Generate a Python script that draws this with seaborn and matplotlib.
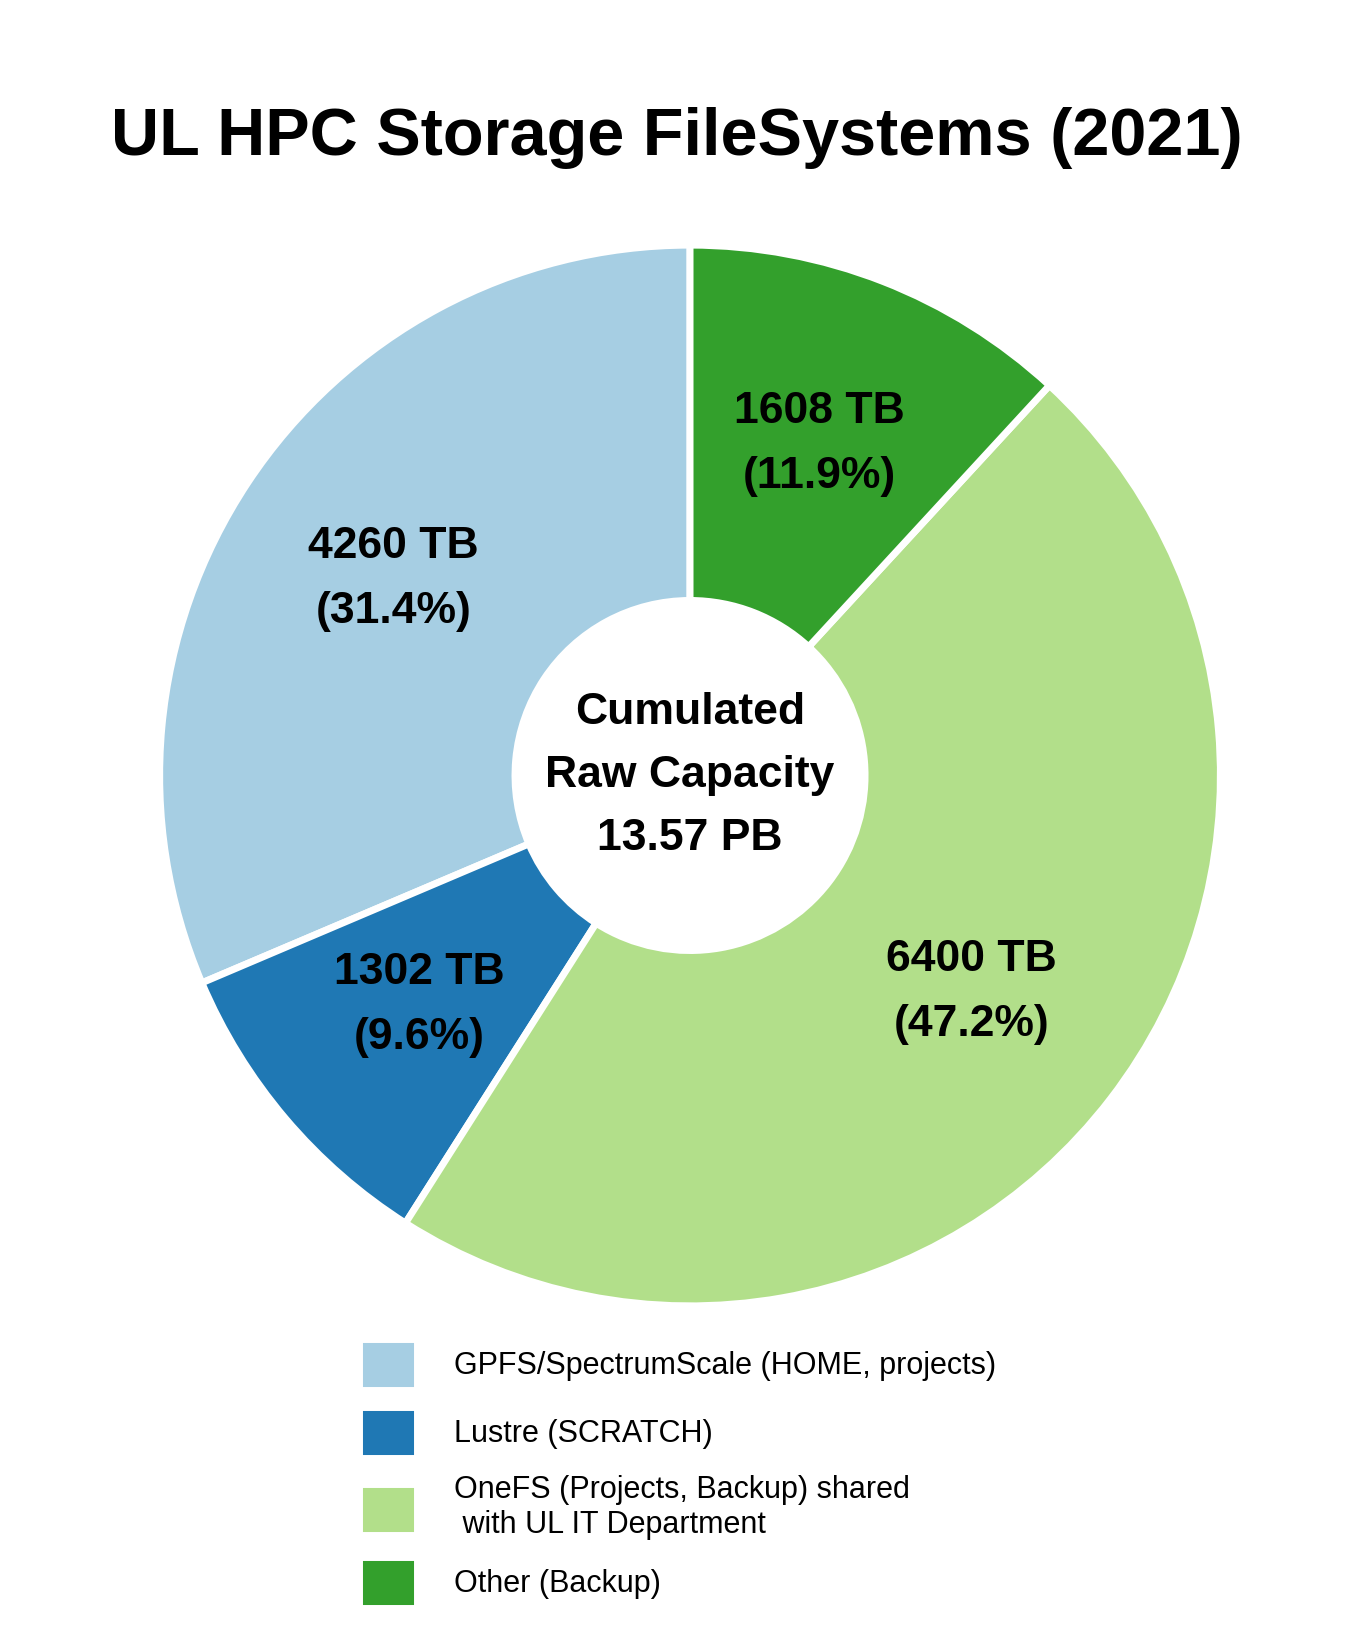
import matplotlib
matplotlib.use("Agg")
import matplotlib.pyplot as plt
import numpy as np
import seaborn as sns

labels = ["GPFS/SpectrumScale (HOME, projects)", "Lustre (SCRATCH)",
          "OneFS (Projects, Backup) shared\n with UL IT Department", "Other (Backup)"]
capacity_tb = [4260, 1302, 6400, 1608]
percent = [31.4, 9.6, 47.2, 11.9]
total_pb = "13.57 PB"

sns.set_style("white")
plt.rcParams['font.family'] = ['Liberation Sans', 'DejaVu Sans']
plt.rcParams['text.color'] = 'black'
colors = sns.color_palette("Paired", 4)

fig = plt.figure(figsize=(13.53, 16.5), dpi=100)
ax = fig.add_axes([0.118, 0.2085, 0.784, 0.643])
wedges, texts = ax.pie(
    capacity_tb, colors=colors, startangle=90, counterclock=True,
    wedgeprops=dict(width=0.67, edgecolor='white', linewidth=5))
# labels inside each wedge
for w, v, p in zip(wedges, capacity_tb, percent):
    ang = np.deg2rad((w.theta1 + w.theta2) / 2)
    ax.text(0.67 * np.cos(ang), 0.67 * np.sin(ang), "%d TB\n(%.1f%%)" % (v, p),
            ha='center', va='center', fontsize=32, fontweight='bold', linespacing=1.75)
ax.set_xlim(-1, 1)
ax.set_ylim(-1, 1)
ax.set_aspect('equal')
ax.text(0, 0, "Cumulated\nRaw Capacity\n" + total_pb, ha='center', va='center',
        fontsize=32, fontweight='bold', linespacing=1.7)
fig.suptitle("UL HPC Storage FileSystems (2021)", fontsize=48, fontweight='bold', y=0.935)
fig.legend(wedges, labels, loc='upper left', bbox_to_anchor=(0.245, 0.205), frameon=False,
           fontsize=22, handlelength=1.9, handleheight=2.2, labelspacing=0.55, handletextpad=1.2)
fig.savefig("out.png")
